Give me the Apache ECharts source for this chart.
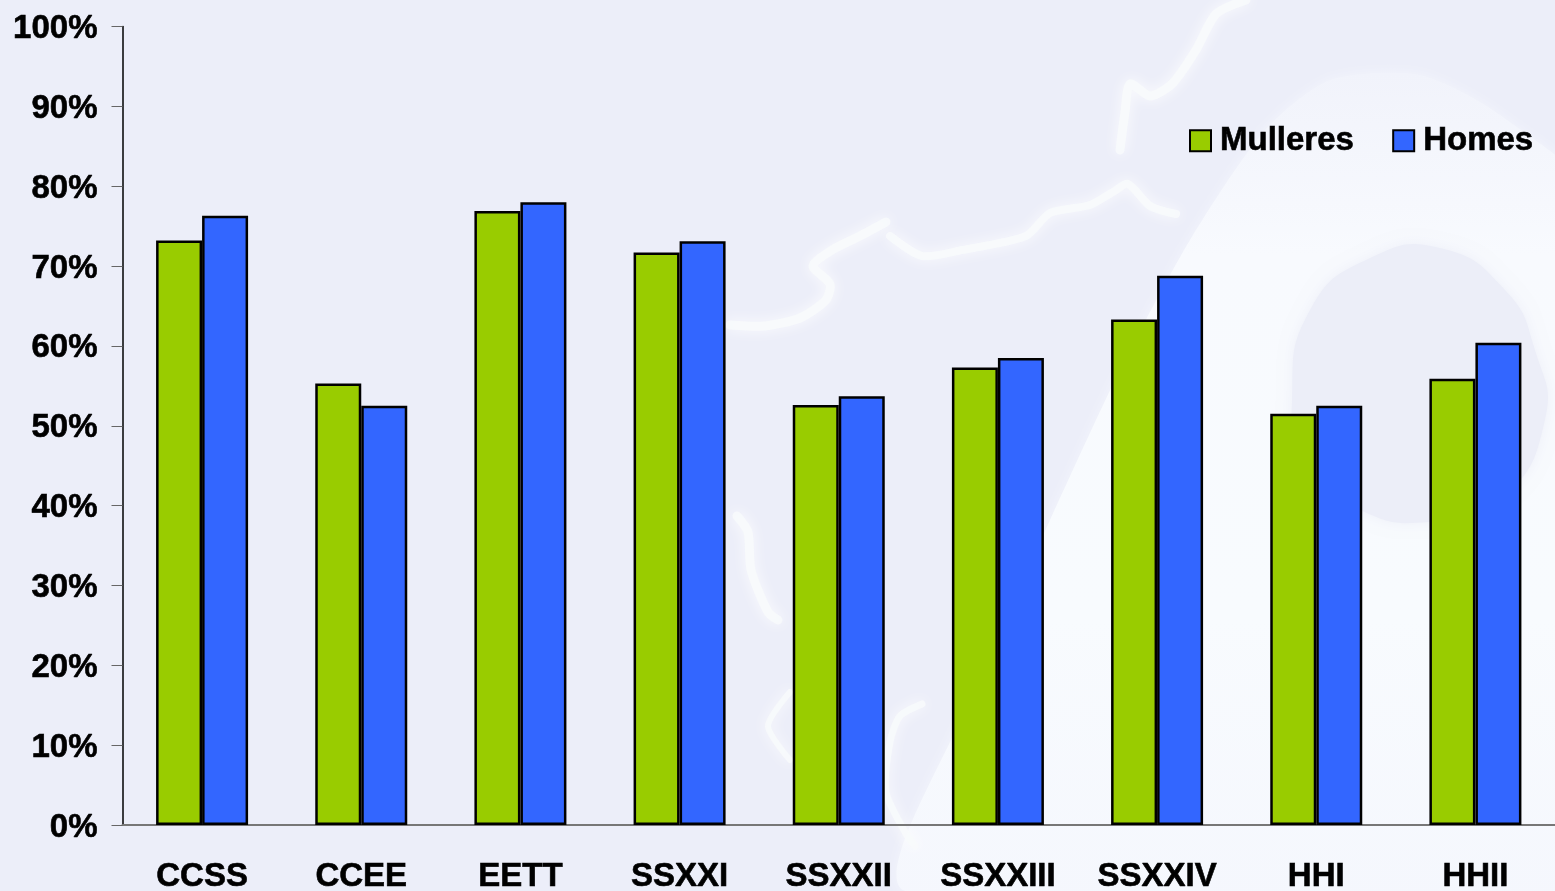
<!DOCTYPE html>
<html>
<head>
<meta charset="utf-8">
<title>Mulleres e homes</title>
<style>
  html, body { margin: 0; padding: 0; background: #eceef9; }
  #chart { width: 1555px; height: 891px; }
</style>
<script src="https://cdn.jsdelivr.net/npm/echarts@6/dist/echarts.min.js"></script>
</head>
<body>
<div id="chart"></div>
<script>
const categories = ['CCSS', 'CCEE', 'EETT', 'SSXXI', 'SSXXII', 'SSXXIII', 'SSXXIV', 'HHI', 'HHII']
const mulleres = [73.2, 55.3, 76.9, 71.7, 52.6, 57.3, 63.3, 51.5, 55.9]
const homes = [76.3, 52.5, 78.0, 73.1, 53.7, 58.5, 68.8, 52.5, 60.4]

const font = '"Liberation Sans", Arial, sans-serif'

// faint map watermark behind the plot
const river = (points, width) => ({
  type: 'polyline',
  silent: true,
  shape: { points, smooth: 0.25 },
  style: {
    fill: null,
    stroke: '#f8fafc',
    opacity: 0.85,
    lineWidth: width,
    lineCap: 'round',
    lineJoin: 'round',
    shadowBlur: 14,
    shadowColor: '#ffffff'
  }
})

const watermark = [
  {
    type: 'polygon',
    silent: true,
    shape: {
      smooth: 0.25,
      points: [
        [905, 891], [960, 720], [1050, 520], [1120, 370], [1190, 240], [1265, 130],
        [1330, 80], [1420, 75], [1500, 115], [1600, 210], [1600, 950]
      ]
    },
    style: {
      fill: new echarts.graphic.LinearGradient(0, 0, 0, 1, [
        { offset: 0, color: '#f1f3fb' },
        { offset: 0.2, color: '#f8fafe' },
        { offset: 0.6, color: '#f8fbfe' },
        { offset: 1, color: '#f4f6fd' }
      ]),
      shadowBlur: 12,
      shadowColor: '#f3f5fc'
    }
  },
  {
    type: 'polygon',
    silent: true,
    shape: {
      smooth: 0.5,
      points: [
        [1292, 400], [1310, 310], [1370, 258], [1440, 248], [1505, 290], [1535, 350],
        [1545, 420], [1500, 500], [1430, 522], [1360, 510], [1305, 465]
      ]
    },
    style: { fill: '#eceef8', shadowBlur: 14, shadowColor: '#eef0f9' }
  },
  river([[730, 325], [765, 326], [800, 318], [826, 300], [830, 284], [813, 266], [832, 250], [860, 236], [886, 222]], 9),
  river([[890, 236], [922, 256], [962, 250], [1026, 236], [1050, 213], [1090, 205], [1113, 192], [1128, 184], [1150, 206], [1176, 214]], 8),
  river([[1246, 0], [1216, 14], [1196, 50], [1172, 84], [1150, 96], [1130, 84], [1125, 112], [1120, 150]], 9),
  river([[737, 516], [748, 532], [751, 570], [768, 612], [778, 620]], 9),
  river([[922, 704], [900, 716], [890, 742], [886, 792], [905, 832], [915, 846]], 7),
  river([[790, 692], [768, 726], [790, 760]], 6)
]

const chart = echarts.init(document.getElementById('chart'), null, { renderer: 'canvas' })

const labelStyle = {
  fontFamily: font,
  fontSize: 33,
  fontWeight: 'bold',
  color: '#000',
  textBorderColor: '#000',
  textBorderWidth: 0.6
}

chart.setOption({
  backgroundColor: '#eceef9',
  animation: false,
  textStyle: { fontFamily: font },
  graphic: { z: -10, elements: watermark },
  legend: {
    left: 1184,
    top: 119,
    itemWidth: 21,
    itemHeight: 21,
    itemGap: 38,
    icon: 'rect',
    textStyle: { ...labelStyle, padding: [0, 0, 0, 4] },
    itemStyle: { borderColor: '#000', borderWidth: 2 }
  },
  grid: { left: 122.5, right: 0, top: 26.5, bottom: 66, outerBoundsMode: 'none' },
  xAxis: {
    type: 'category',
    data: categories,
    axisLine: { lineStyle: { color: '#777', width: 2 } },
    axisTick: { length: 11, lineStyle: { color: '#111', width: 1 } },
    axisLabel: { ...labelStyle, margin: 35, interval: 0 }
  },
  yAxis: {
    type: 'value',
    min: 0,
    max: 100,
    interval: 10,
    splitLine: { show: false },
    axisLine: { show: true, lineStyle: { color: '#000', width: 1.5 } },
    axisTick: { show: true, length: 11, lineStyle: { color: '#666', width: 1 } },
    // top anchored so the padding can nudge the labels down onto the ticks
    axisLabel: { ...labelStyle, margin: 25, verticalAlign: 'top', padding: [-14, 0, 0, 0], formatter: '{value}%' }
  },
  series: [
    {
      name: 'Mulleres',
      type: 'bar',
      data: mulleres,
      barWidth: 46,
      barGap: 0,
      itemStyle: { color: '#99cc00', borderColor: '#000', borderWidth: 2.5 }
    },
    {
      name: 'Homes',
      type: 'bar',
      data: homes,
      barWidth: 46,
      barGap: 0,
      itemStyle: { color: '#3366ff', borderColor: '#000', borderWidth: 2.5 }
    }
  ]
})
</script>
</body>
</html>
